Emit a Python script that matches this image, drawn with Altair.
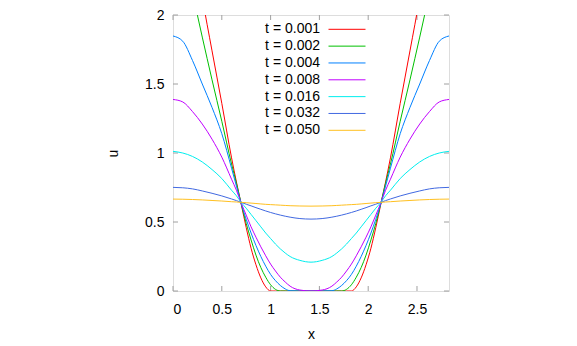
import altair as alt
import pandas as pd

x_vals = [0, 0.1, 0.2, 0.3, 0.4, 0.5, 0.6, 0.65, 0.7, 0.75, 0.8, 0.85, 0.9, 0.95, 1.0,
          1.05, 1.1, 1.15, 1.2, 1.3, 1.414,
          1.528, 1.628, 1.678, 1.728, 1.778, 1.828, 1.878, 1.928, 1.978, 2.028, 2.078,
          2.128, 2.178, 2.228, 2.328, 2.428, 2.528, 2.628, 2.728, 2.828]

u_t0001 = [3.2, 3.0, 2.6, 2.13, 1.74, 1.36, 0.965, 0.79, 0.625, 0.46, 0.31, 0.19, 0.095, 0.03, 0,
           0, 0, 0, 0, 0, 0,
           0, 0, 0, 0, 0, 0, 0.03, 0.095, 0.19, 0.31, 0.46, 0.625, 0.79, 0.965, 1.36, 1.74, 2.13, 2.6, 3.0, 3.2]
u_t0002 = [2.6, 2.48, 2.16, 1.84, 1.53, 1.23, 0.92, 0.78, 0.63, 0.49, 0.37, 0.26, 0.17, 0.10, 0.045,
           0.012, 0, 0, 0, 0, 0,
           0, 0, 0, 0, 0.012, 0.045, 0.10, 0.17, 0.26, 0.37, 0.49, 0.63, 0.78, 0.92, 1.23, 1.53, 1.84, 2.16, 2.48, 2.6]
u_t0004 = [1.848, 1.81, 1.67, 1.50, 1.33, 1.14, 0.89, 0.76, 0.63, 0.52, 0.42, 0.33, 0.25, 0.18, 0.12,
           0.075, 0.04, 0.015, 0.002, 0, 0,
           0, 0.002, 0.015, 0.04, 0.075, 0.12, 0.18, 0.25, 0.33, 0.42, 0.52, 0.63, 0.76, 0.89, 1.14, 1.33, 1.50, 1.67, 1.81, 1.848]
u_t0008 = [1.388, 1.37, 1.30, 1.21, 1.10, 0.97, 0.81, 0.73, 0.635, 0.55, 0.465, 0.39, 0.32, 0.255, 0.195,
           0.145, 0.10, 0.065, 0.035, 0.007, 0,
           0.007, 0.035, 0.065, 0.10, 0.145, 0.195, 0.255, 0.32, 0.39, 0.465, 0.55, 0.635, 0.73, 0.81, 0.97, 1.10, 1.21, 1.30, 1.37, 1.388]
u_t0016 = [1.012, 1.0, 0.975, 0.935, 0.88, 0.815, 0.73, 0.69, 0.64, 0.60, 0.555, 0.51, 0.465, 0.42, 0.38,
           0.34, 0.305, 0.275, 0.25, 0.222, 0.209,
           0.222, 0.25, 0.275, 0.305, 0.34, 0.38, 0.42, 0.465, 0.51, 0.555, 0.60, 0.64, 0.69, 0.73, 0.815, 0.88, 0.935, 0.975, 1.0, 1.012]
u_t0032 = [0.751, 0.748, 0.740, 0.725, 0.708, 0.689, 0.667, 0.655, 0.642, 0.629, 0.617, 0.604, 0.592, 0.580, 0.569,
           0.559, 0.550, 0.542, 0.535, 0.525, 0.521,
           0.525, 0.535, 0.542, 0.550, 0.559, 0.569, 0.580, 0.592, 0.604, 0.617, 0.629, 0.642, 0.655, 0.667, 0.689, 0.708, 0.725, 0.740, 0.748, 0.751]
u_t0050 = [0.666, 0.665, 0.663, 0.660, 0.656, 0.652, 0.647, 0.645, 0.642, 0.640, 0.637, 0.634, 0.631, 0.628, 0.626,
           0.624, 0.622, 0.620, 0.618, 0.616, 0.615,
           0.616, 0.618, 0.620, 0.622, 0.624, 0.626, 0.628, 0.631, 0.634, 0.637, 0.640, 0.642, 0.645, 0.647, 0.652, 0.656, 0.660, 0.663, 0.665, 0.666]

labels = ["t = 0.001", "t = 0.002", "t = 0.004", "t = 0.008", "t = 0.016", "t = 0.032", "t = 0.050"]
colors = ["#ff0000", "#00c000", "#0080ff", "#c000ff", "#00eeee", "#4169e1", "#ffc020"]
series = [u_t0001, u_t0002, u_t0004, u_t0008, u_t0016, u_t0032, u_t0050]

x_ticks = [0, 0.5, 1, 1.5, 2, 2.5]
y_ticks = [0, 0.5, 1, 1.5, 2]

W, H = 276, 276
FONT = "Liberation Sans"

rows = []
for lab, vals in zip(labels, series):
    for xv, uv in zip(x_vals, vals):
        rows.append({"x": xv, "u": uv, "t": lab})
df = pd.DataFrame(rows)

xs = alt.Scale(domain=[0, 2.828], nice=False, zero=False)
ys = alt.Scale(domain=[0, 2], nice=False, zero=False)

x_axis = alt.Axis(values=x_ticks, title="x", grid=False, domain=False, ticks=False, tickSize=0,
                  labelPadding=11, labelFontSize=14, labelFont=FONT, labelColor="#000",
                  titleFont=FONT, titleFontSize=14, titleFontWeight="normal", titlePadding=11,
                  titleColor="#000", format="~g")
y_axis = alt.Axis(values=y_ticks, title="u", grid=False, domain=False, ticks=False, tickSize=0,
                  labelPadding=9, labelFontSize=14, labelFont=FONT, labelColor="#000",
                  titleFont=FONT, titleFontSize=14, titleFontWeight="normal", titlePadding=24,
                  titleColor="#000", format="~g")

lines = alt.Chart(df).mark_line(clip=True, strokeWidth=1, interpolate="monotone").encode(
    x=alt.X("x:Q", scale=xs, axis=x_axis),
    y=alt.Y("u:Q", scale=ys, axis=y_axis),
    color=alt.Color("t:N", scale=alt.Scale(domain=labels, range=colors), legend=None),
    detail="t:N",
)

tick_len = 5
xt = pd.DataFrame({"v": x_ticks})
yt = pd.DataFrame({"v": y_ticks})
tick_style = dict(color="#a0a0a0", strokeWidth=1)
xb = alt.Chart(xt).mark_rule(**tick_style).encode(
    x=alt.X("v:Q", scale=xs, axis=x_axis), y=alt.value(H), y2=alt.value(H - tick_len))
xtop = alt.Chart(xt).mark_rule(**tick_style).encode(
    x=alt.X("v:Q", scale=xs, axis=x_axis), y=alt.value(0), y2=alt.value(tick_len))
yl = alt.Chart(yt).mark_rule(**tick_style).encode(
    y=alt.Y("v:Q", scale=ys, axis=y_axis), x=alt.value(0), x2=alt.value(tick_len))
yr = alt.Chart(yt).mark_rule(**tick_style).encode(
    y=alt.Y("v:Q", scale=ys, axis=y_axis), x=alt.value(W), x2=alt.value(W - tick_len))

main = alt.layer(xb, xtop, yl, yr, lines)

leg_df = pd.DataFrame({"t": labels})
leg_y = alt.Y("t:N", scale=alt.Scale(type="point", domain=labels, range=[14.3, 115.3], padding=0), axis=None)
leg_text = alt.Chart(leg_df).mark_text(align="right", baseline="middle", fontSize=14, font=FONT, color="#000").encode(
    x=alt.value(147), y=leg_y, text="t:N")
leg_line = alt.Chart(leg_df).mark_rule(strokeWidth=1).encode(
    x=alt.value(155.5), x2=alt.value(192.5), y=leg_y,
    color=alt.Color("t:N", scale=alt.Scale(domain=labels, range=colors), legend=None))

legend = alt.layer(leg_text, leg_line)

chart = alt.layer(main, legend).resolve_scale(y="independent").properties(
    width=W, height=H,
    autosize=alt.AutoSizeParams(type="none"),
    padding={"left": 165, "top": 7, "right": 120, "bottom": 54},
).configure_view(stroke="#a0a0a0", strokeWidth=1).configure(background="white")

chart.save("out.html", embed_options={"renderer": "svg", "actions": False})
